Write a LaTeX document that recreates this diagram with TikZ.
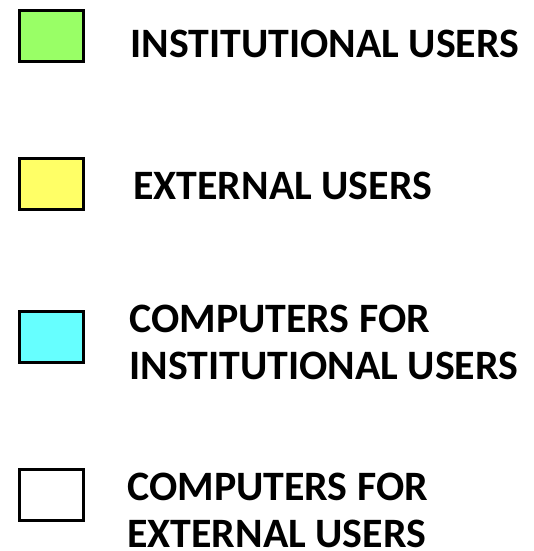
\documentclass[tikz,border=0pt]{standalone}
\usepackage{fontspec}
\setmainfont{Carlito}
\usepackage{tikz}
\definecolor{instgreen}{HTML}{99FF66}
\definecolor{extyellow}{HTML}{FFFF66}
\definecolor{compcyan}{HTML}{66FFFF}
\tikzset{
	legbox/.style={draw, line width=2.25pt, minimum width=48pt, minimum height=38.25pt, inner sep=0pt},
	legtext/.style={anchor=north west, inner sep=0pt, align=left, font=\fontsize{31.4}{35.25}\selectfont\bfseries}
}

\begin{document}
\begin{tikzpicture}[x=0.75pt, y=-0.75pt]
	\useasboundingbox (0,0) rectangle (534,551);
	\node[legbox, fill=instgreen] (b1) at (51.5, 36) {};
	\node[legbox, fill=extyellow] (b2) at (51.5, 184) {};
	\node[legbox, fill=compcyan] (b3) at (51.5, 336.5) {};
	\node[legbox, fill=white] (b4) at (51.5, 494.5) {};
	\node[legtext] (t1) at (130, 30) {INSTITUTIONAL USERS};
	\node[legtext] (t2) at (133, 172) {EXTERNAL USERS};
	\node[legtext] (t3) at (129, 305) {COMPUTERS FOR\\INSTITUTIONAL USERS};
	\node[legtext] (t4) at (127, 473) {COMPUTERS FOR\\EXTERNAL USERS};
\end{tikzpicture}
\end{document}
